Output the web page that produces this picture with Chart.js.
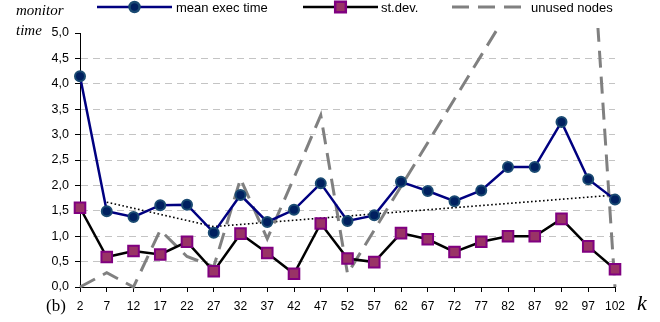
<!DOCTYPE html>
<html>
<head>
<meta charset="utf-8">
<script src="https://cdn.jsdelivr.net/npm/chart.js@4/dist/chart.umd.min.js"></script>
<style>
  html, body { margin: 0; padding: 0; background: #fff; }
  #wrap { width: 660px; height: 322px; position: relative; }
</style>
</head>
<body>
<div id="wrap"><canvas id="c"></canvas></div>
<script>
// Number of monitors k
const categories = [2, 7, 12, 17, 22, 27, 32, 37, 42, 47, 52, 57, 62, 67, 72, 77, 82, 87, 92, 97, 102];

// Mean execution time
const meanExecTime = [4.15, 1.49, 1.38, 1.61, 1.62, 1.07, 1.81, 1.28, 1.52, 2.04, 1.30,
                      1.41, 2.07, 1.89, 1.69, 1.90, 2.36, 2.36, 3.25, 2.12, 1.72];

// Standard deviation of execution time
const stDev = [1.56, 0.59, 0.71, 0.64, 0.89, 0.31, 1.05, 0.67, 0.26, 1.25, 0.56,
               0.49, 1.06, 0.94, 0.69, 0.89, 1.00, 1.00, 1.34, 0.80, 0.35];

// Unused nodes (rises past the top of the value axis)
const unusedNodes = [0, 0.28, 0, 1.12, 0.60, 0.40, 2.13, 0.95, 2.15, 3.38, 0.26,
                     1.12, 1.98, 2.84, 3.70, 4.56, 5.42, 6.28, 7.14, 8.00, 0];

// Trend of mean execution time (break points only)
const trendLine = [null, 1.67, null, null, null, 1.19, null, null, null, null, null,
                   null, null, null, null, null, null, null, null, null, 1.81];

// Value-axis ticks
const yTickValues = [0, 0.5, 1, 1.5, 2, 2.5, 3, 3.5, 4, 4.5, 5];

const SANS = '"Liberation Sans", Arial, sans-serif';
const SERIF = '"Liberation Serif", "Times New Roman", serif';

const seriesNames = ['mean exec time', 'st.dev.', 'unused nodes'];

// Legend row drawn above the plot: sample line, marker and caption for each series
const legendLayout = [
  { x0: 97,  x1: 172, text: 176 },
  { x0: 303, x1: 378, text: 381 },
  { x0: 452, x1: 525, text: 531 }
];

const legendPlugin = {
  id: 'seriesLegend',
  afterDraw(chart) {
    const ctx = chart.ctx;
    const y = 7;
    legendLayout.forEach((item, i) => {
      const ds = chart.data.datasets[i];
      ctx.save();
      ctx.strokeStyle = ds.borderColor;
      ctx.lineWidth = ds.borderWidth;
      ctx.setLineDash(ds.borderDash || []);
      ctx.beginPath();
      ctx.moveTo(item.x0, y);
      ctx.lineTo(item.x1, y);
      ctx.stroke();
      ctx.setLineDash([]);
      if (ds.pointRadius > 0) {
        ctx.fillStyle = ds.pointBackgroundColor;
        ctx.strokeStyle = ds.pointBorderColor;
        Chart.helpers.drawPoint(ctx, {
          pointStyle: ds.pointStyle,
          radius: ds.pointRadius,
          borderWidth: ds.pointBorderWidth,
          rotation: 0
        }, (item.x0 + item.x1) / 2, y);
      }
      ctx.fillStyle = '#000';
      ctx.font = '13px ' + SANS;
      ctx.textBaseline = 'middle';
      ctx.textAlign = 'left';
      ctx.fillText(ds.label, item.text, y + 1);
      ctx.restore();
    });
  }
};

// Axis captions: value-axis title, panel tag and k
const captionPlugin = {
  id: 'captions',
  afterDraw(chart) {
    const ctx = chart.ctx;
    ctx.save();
    ctx.fillStyle = '#000';
    ctx.textBaseline = 'alphabetic';
    ctx.textAlign = 'left';
    ctx.font = 'italic 15px ' + SERIF;
    ctx.fillText('monitor', 16, 15);
    ctx.fillText('time', 16, 35);
    ctx.font = '17px ' + SERIF;
    ctx.fillText('(b)', 46, 311);
    ctx.font = 'italic 22px ' + SERIF;
    ctx.fillText('k', 637, 310);
    ctx.restore();
  }
};

const fmt = v => v.toFixed(1).replace('.', ',');

new Chart(document.getElementById('c'), {
  type: 'line',
  data: {
    labels: categories,
    datasets: [
      {
        label: seriesNames[0],
        data: meanExecTime,
        borderColor: '#000080',
        borderWidth: 2.5,
        pointStyle: 'circle',
        pointRadius: 5,
        pointBorderWidth: 2,
        pointBackgroundColor: '#002060',
        pointBorderColor: '#1a4a72',
        tension: 0
      },
      {
        label: seriesNames[1],
        data: stDev,
        borderColor: '#000000',
        borderWidth: 2.5,
        pointStyle: 'rect',
        pointRadius: 7.5,
        pointBorderWidth: 2,
        pointBackgroundColor: '#993366',
        pointBorderColor: '#800080',
        tension: 0
      },
      {
        label: seriesNames[2],
        data: unusedNodes,
        borderColor: '#808080',
        borderWidth: 3,
        borderDash: [17, 9],
        pointRadius: 0,
        tension: 0,
        clip: { left: 2, top: 5, right: 2, bottom: 2 }
      },
      {
        label: 'trend',
        data: trendLine,
        borderColor: '#000000',
        borderWidth: 1.6,
        borderDash: [1.6, 2.4],
        pointRadius: 0,
        spanGaps: true,
        tension: 0
      }
    ]
  },
  options: {
    responsive: true,
    maintainAspectRatio: false,
    animation: false,
    devicePixelRatio: 1,
    layout: { padding: { top: 33, right: 45, bottom: 0, left: 0 } },
    plugins: {
      legend: { display: false },
      tooltip: { enabled: false },
      title: { display: false }
    },
    scales: {
      x: {
        type: 'category',
        offset: false,
        grid: {
          drawOnChartArea: false,
          drawTicks: true,
          tickLength: 5,
          tickColor: '#000',
          tickWidth: 1
        },
        border: { display: true, color: '#000', width: 1 },
        ticks: {
          color: '#000',
          font: { family: SANS, size: 12 },
          padding: 7,
          maxRotation: 0,
          autoSkip: false
        },
        afterFit(scale) { scale.height = 35; }
      },
      y: {
        min: 0,
        max: 5,
        afterBuildTicks(scale) { scale.ticks = yTickValues.map(v => ({ value: v })); },
        grid: {
          color: c => (c.tick && (c.tick.value === 0 || c.tick.value === 5)) ? 'rgba(0,0,0,0)' : '#c4c4c4',
          lineWidth: 1,
          drawTicks: true,
          tickLength: 5,
          tickColor: '#000',
          tickWidth: 1,
          tickBorderDash: []
        },
        border: { display: true, color: '#000', width: 1, dash: [7, 5] },
        ticks: {
          color: '#000',
          font: { family: SANS, size: 12.5 },
          padding: 6,
          callback: v => fmt(v)
        },
        afterFit(scale) { scale.width = 80; }
      }
    }
  },
  plugins: [legendPlugin, captionPlugin]
});
</script>
</body>
</html>
